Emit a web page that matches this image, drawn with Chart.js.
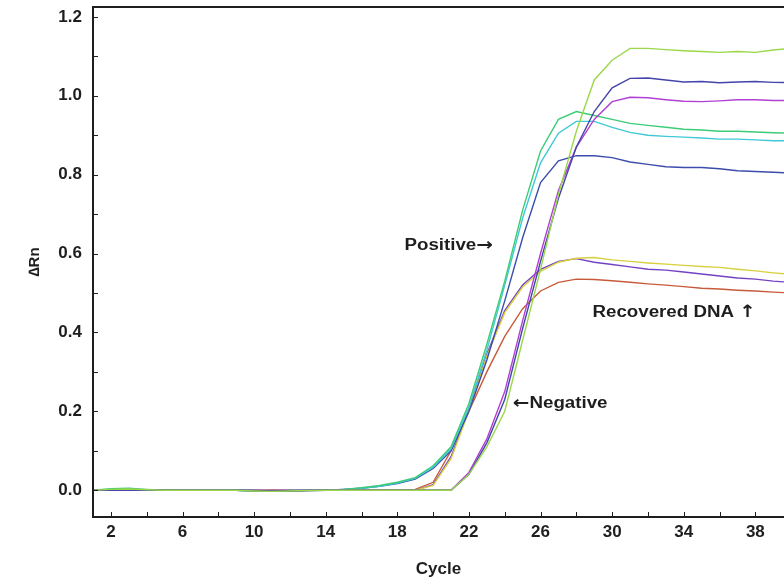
<!DOCTYPE html>
<html>
<head>
<meta charset="utf-8">
<script src="https://cdn.jsdelivr.net/npm/chart.js@4.4.1/dist/chart.umd.min.js"></script>
<style>
  html, body { margin: 0; padding: 0; background: #fff; }
  #wrap { width: 784px; height: 585px; }
</style>
</head>
<body>
<div id="wrap"><canvas id="pcr" width="784" height="585"></canvas></div>
<script>
// amplification data, one value per cycle
const cycles = [1,2,3,4,5,6,7,8,9,10,11,12,13,14,15,16,17,18,19,20,21,22,23,24,25,26,27,28,29,30,31,32,33,34,35,36,37,38,39,40]

const positiveA = [0,0.004,0.005,0.002,0,0,0,0,0,-0.002,-0.002,-0.001,0,0,0.002,0.006,0.012,0.02,0.032,0.062,0.11,0.22,0.37,0.53,0.71,0.86,0.94,0.96,0.95,0.94,0.93,0.925,0.92,0.915,0.913,0.91,0.91,0.908,0.906,0.905]
const positiveB = [0,0.002,0.003,0,0,0,0,0,0,-0.001,-0.002,-0.001,0,0,0.002,0.005,0.01,0.018,0.03,0.058,0.105,0.21,0.355,0.52,0.69,0.83,0.905,0.935,0.935,0.92,0.907,0.9,0.897,0.895,0.893,0.89,0.89,0.888,0.886,0.886]
const positiveC = [0,0,0,0,0,0,0,0,0,-0.002,-0.003,-0.002,-0.001,0,0.002,0.005,0.01,0.017,0.028,0.055,0.1,0.2,0.33,0.48,0.64,0.78,0.835,0.848,0.848,0.843,0.832,0.826,0.82,0.818,0.818,0.815,0.81,0.808,0.806,0.804]

const negativeA = [0,0.002,0.003,0.001,0,0,0,0,0,-0.002,-0.003,-0.002,-0.001,0,0,0,0,0,0,0,0,0.04,0.11,0.2,0.38,0.56,0.75,0.91,1.04,1.09,1.12,1.12,1.117,1.114,1.112,1.11,1.112,1.11,1.116,1.12]
const negativeB = [0,0,0,0,0,0,0,0,0,-0.001,-0.002,-0.002,-0.001,0,0,0,0,0,0,0,0,0.04,0.12,0.23,0.41,0.58,0.74,0.87,0.96,1.02,1.044,1.045,1.04,1.035,1.036,1.033,1.035,1.036,1.034,1.033]
const negativeC = [0,0,0,0,0,0,0,0,0,-0.001,-0.001,-0.001,0,0,0,0,0,0,0,0,0,0.045,0.13,0.25,0.43,0.6,0.76,0.87,0.94,0.985,0.996,0.995,0.99,0.986,0.985,0.987,0.99,0.99,0.988,0.988]

const recoveredA = [0,0,0,0,0,0,0,0,0,0,-0.001,-0.001,0,0,0,0,0,0,0,0.012,0.08,0.2,0.34,0.45,0.515,0.555,0.578,0.588,0.59,0.584,0.58,0.576,0.573,0.57,0.567,0.565,0.56,0.556,0.551,0.547]
const recoveredB = [0,0,0,0,0,0,0,0,0,0,0,0,0,0,0,0,0,0,0,0.014,0.085,0.205,0.345,0.455,0.52,0.56,0.58,0.587,0.578,0.572,0.566,0.56,0.558,0.553,0.548,0.543,0.538,0.535,0.53,0.527]
const recoveredC = [0,0,0,0,0,0,0,0,0,0,0,0,0,0,0,0,0,0,0.002,0.02,0.1,0.2,0.3,0.39,0.46,0.505,0.527,0.535,0.534,0.531,0.527,0.523,0.52,0.516,0.512,0.51,0.507,0.505,0.502,0.5]

const xTickLabels = [2,6,10,14,18,22,26,30,34,38]
const yTickLabels = [0.0,0.2,0.4,0.6,0.8,1.0,1.2]

// text pieces, arrows kept apart so they can use a font with bigger arrows
const notes = [
    {parts: ['Positive', '\u2192'], x: 18.4, y: 0.62},
    {parts: ['Recovered DNA ', '\u2191'], x: 28.9, y: 0.45},
    {parts: ['\u2190', 'Negative'], x: 24.45, y: 0.22}
]

const series = [
    {data: negativeA, color: '#9ad84a'},
    {data: negativeB, color: '#4444aa'},
    {data: negativeC, color: '#b040d4'},
    {data: positiveA, color: '#3ccc78'},
    {data: positiveB, color: '#40c8d8'},
    {data: positiveC, color: '#3c4caa'},
    {data: recoveredA, color: '#d8d040'},
    {data: recoveredB, color: '#7442c4'},
    {data: recoveredC, color: '#c85a3c'}
]

const FONT = "'Liberation Sans', Arial, sans-serif"
const ARROWS = "'DejaVu Sans', sans-serif"
const INK = '#1e1e1e'
const STRETCH = 1.17   // the original lettering is a bit wide
const isArrow = s => /[\u2190-\u2195]/.test(s)

// frame lines and inward tick marks, like the instrument software draws them
const framePlugin = {
    id: 'frame',
    afterDraw(chart){
        const ctx = chart.ctx
        const a = chart.chartArea
        const xs = chart.scales.x
        const ys = chart.scales.y
        ctx.save()
        ctx.strokeStyle = INK
        ctx.lineWidth = 2
        ctx.beginPath()
        ctx.moveTo(a.right + 2, a.top)
        ctx.lineTo(a.left, a.top)
        ctx.lineTo(a.left, a.bottom)
        ctx.lineTo(a.right + 2, a.bottom)
        ctx.stroke()
        ctx.lineWidth = 1
        ctx.beginPath()
        xs.ticks.forEach(t => {
            const px = Math.round(xs.getPixelForValue(t.value)) + 0.5
            ctx.moveTo(px, a.bottom)
            ctx.lineTo(px, a.bottom - 5)
        })
        ys.ticks.forEach(t => {
            const py = Math.round(ys.getPixelForValue(t.value)) + 0.5
            ctx.moveTo(a.left, py)
            ctx.lineTo(a.left + 5, py)
        })
        ctx.stroke()

        ctx.fillStyle = INK
        ctx.textBaseline = 'middle'
        ctx.textAlign = 'left'
        notes.forEach(n => {
            const x0 = xs.getPixelForValue(n.x)
            const py = ys.getPixelForValue(n.y)
            ctx.save()
            ctx.translate(x0, py)
            ctx.scale(STRETCH, 1)
            let px = 0
            n.parts.forEach(p => {
                ctx.font = isArrow(p) ? 'bold 17px ' + ARROWS : 'bold 16px ' + FONT
                ctx.fillText(p, px, 0)
                px += ctx.measureText(p).width
            })
            ctx.restore()
        })
        ctx.restore()
    }
}

function minorTicks(from, to, step){
    const out = []
    for(let v = from; v <= to + 1e-9; v += step) out.push({value: Math.round(v * 100) / 100})
    return out
}

new Chart(document.querySelector('#pcr'), {
    type: 'line',
    data: {
        labels: cycles,
        datasets: series.map(s => ({
            data: s.data,
            borderColor: s.color,
            borderWidth: 1.4,
            pointRadius: 0,
            tension: 0,
            fill: false
        }))
    },
    options: {
        responsive: false,
        animation: false,
        layout: {padding: {top: 7, right: 0, left: 0, bottom: 0}},
        plugins: {legend: {display: false}, tooltip: {enabled: false}},
        scales: {
            x: {
                type: 'linear',
                min: 1,
                max: 39.6,
                afterBuildTicks: scale => { scale.ticks = minorTicks(2, 38, 2) },
                afterFit: scale => {
                    scale.height = 68
                    scale.paddingLeft = 0
                    scale.paddingRight = 0
                },
                grid: {display: false, drawTicks: false},
                border: {display: false},
                ticks: {
                    padding: 5,
                    color: INK,
                    font: {family: FONT, size: 17, weight: 'bold'},
                    maxRotation: 0,
                    autoSkip: false,
                    callback: v => xTickLabels.includes(v) ? String(v) : ''
                },
                title: {
                    display: true,
                    text: 'Cycle',
                    color: INK,
                    font: {family: FONT, size: 17, weight: 'bold'},
                    padding: {top: 0, bottom: 5}
                }
            },
            y: {
                min: -0.068,
                max: 1.225,
                afterBuildTicks: scale => { scale.ticks = minorTicks(0, 1.2, 0.1) },
                afterFit: scale => {
                    scale.width = 93
                    scale.paddingTop = 0
                    scale.paddingBottom = 0
                },
                grid: {display: false, drawTicks: false},
                border: {display: false},
                ticks: {
                    padding: 11,
                    color: INK,
                    font: {family: FONT, size: 17, weight: 'bold'},
                    autoSkip: false,
                    callback: v => yTickLabels.some(t => Math.abs(t - v) < 1e-6) ? v.toFixed(1) : ''
                },
                title: {
                    display: true,
                    text: '\u2206Rn',
                    color: INK,
                    font: {family: FONT, size: 15, weight: 'bold'},
                    padding: {top: 26, bottom: 0}
                }
            }
        }
    },
    plugins: [framePlugin]
})
</script>
</body>
</html>
